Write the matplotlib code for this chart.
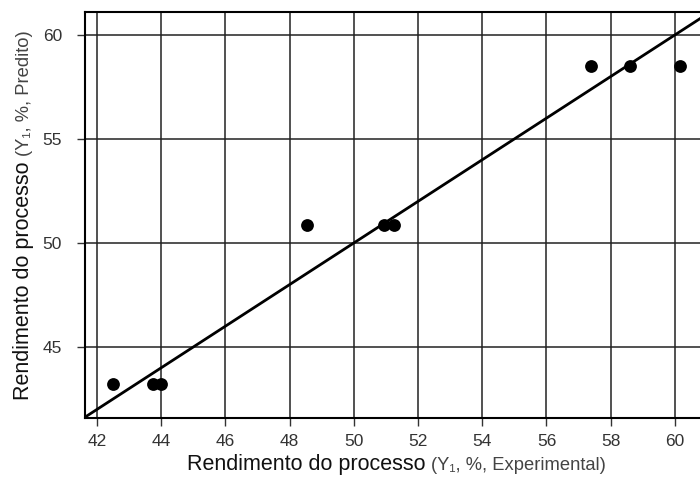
import numpy as np
import matplotlib
matplotlib.use('Agg')
import matplotlib.pyplot as plt

# data
expYield = [42.5, 43.75, 44.0, 48.55, 50.95, 51.25, 57.4, 58.6, 60.15]
predYield = [43.2, 43.2, 43.2, 50.85, 50.85, 50.85, 58.5, 58.5, 58.5]
xTicks = [42, 44, 46, 48, 50, 52, 54, 56, 58, 60]
yTicks = [45, 50, 55, 60]
xLim = (41.63, 60.78)
yLim = (41.59, 61.1)

plt.rcParams['font.family'] = ['Liberation Sans', 'DejaVu Sans']

fig = plt.figure(figsize=(7.0, 4.82), dpi=100)
ax = fig.add_axes([85 / 700, 1 - 418 / 482, 615 / 700, 406 / 482])

ax.set_xlim(*xLim)
ax.set_ylim(*yLim)
ax.set_xticks(xTicks)
ax.set_yticks(yTicks)
ax.grid(True, color='#222222', linewidth=1.1)
ax.set_axisbelow(True)

# identity line
lims = np.array([min(xLim[0], yLim[0]), max(xLim[1], yLim[1])])
ax.plot(lims, lims, color='black', linewidth=2.0, zorder=3)

ax.scatter(expYield, predYield, s=85, color='black', zorder=4, linewidths=0)

for side in ['left', 'bottom', 'top']:
    ax.spines[side].set_color('black')
    ax.spines[side].set_linewidth(1.5)
ax.spines['right'].set_visible(False)
ax.tick_params(axis='both', labelsize=12.5, labelcolor='#333333',
               color='#333333', length=5.5, width=1.0)
ax.tick_params(axis='y', pad=11)
ax.tick_params(axis='x', pad=6)

# two-size axis labels
mainSize = 15.5
subSize = 13.2
subColor = '#444444'
fig.canvas.draw()
renderer = fig.canvas.get_renderer()

# x label
xBase = 1 - 470 / 482
t1 = fig.text(0, xBase, 'Rendimento do processo ', fontsize=mainSize,
              color='#111111', va='baseline', ha='left')
t2 = fig.text(0, xBase, '(Y₁, %, Experimental)', fontsize=subSize,
              color=subColor, va='baseline', ha='left')
w1 = t1.get_window_extent(renderer).width
w2 = t2.get_window_extent(renderer).width
figW = fig.bbox.width
axBox = ax.get_window_extent(renderer)
cx = (axBox.x0 + axBox.x1) / 2 + 4
start = cx - (w1 + w2) / 2
t1.set_x(start / figW)
t2.set_x((start + w1) / figW)

# y label (rotated)
yBaseX = 29 / 700
u1 = fig.text(yBaseX, 0, 'Rendimento do processo ', fontsize=mainSize,
              color='#111111', rotation=90, rotation_mode='anchor',
              va='baseline', ha='left')
u2 = fig.text(yBaseX, 0, '(Y₁, %, Predito)', fontsize=subSize,
              color=subColor, rotation=90, rotation_mode='anchor',
              va='baseline', ha='left')
h1 = u1.get_window_extent(renderer).height
h2 = u2.get_window_extent(renderer).height
figH = fig.bbox.height
cy = (axBox.y0 + axBox.y1) / 2
startY = cy - (h1 + h2) / 2
u1.set_y(startY / figH)
u2.set_y((startY + h1) / figH)

fig.savefig('out.png', dpi=100)
